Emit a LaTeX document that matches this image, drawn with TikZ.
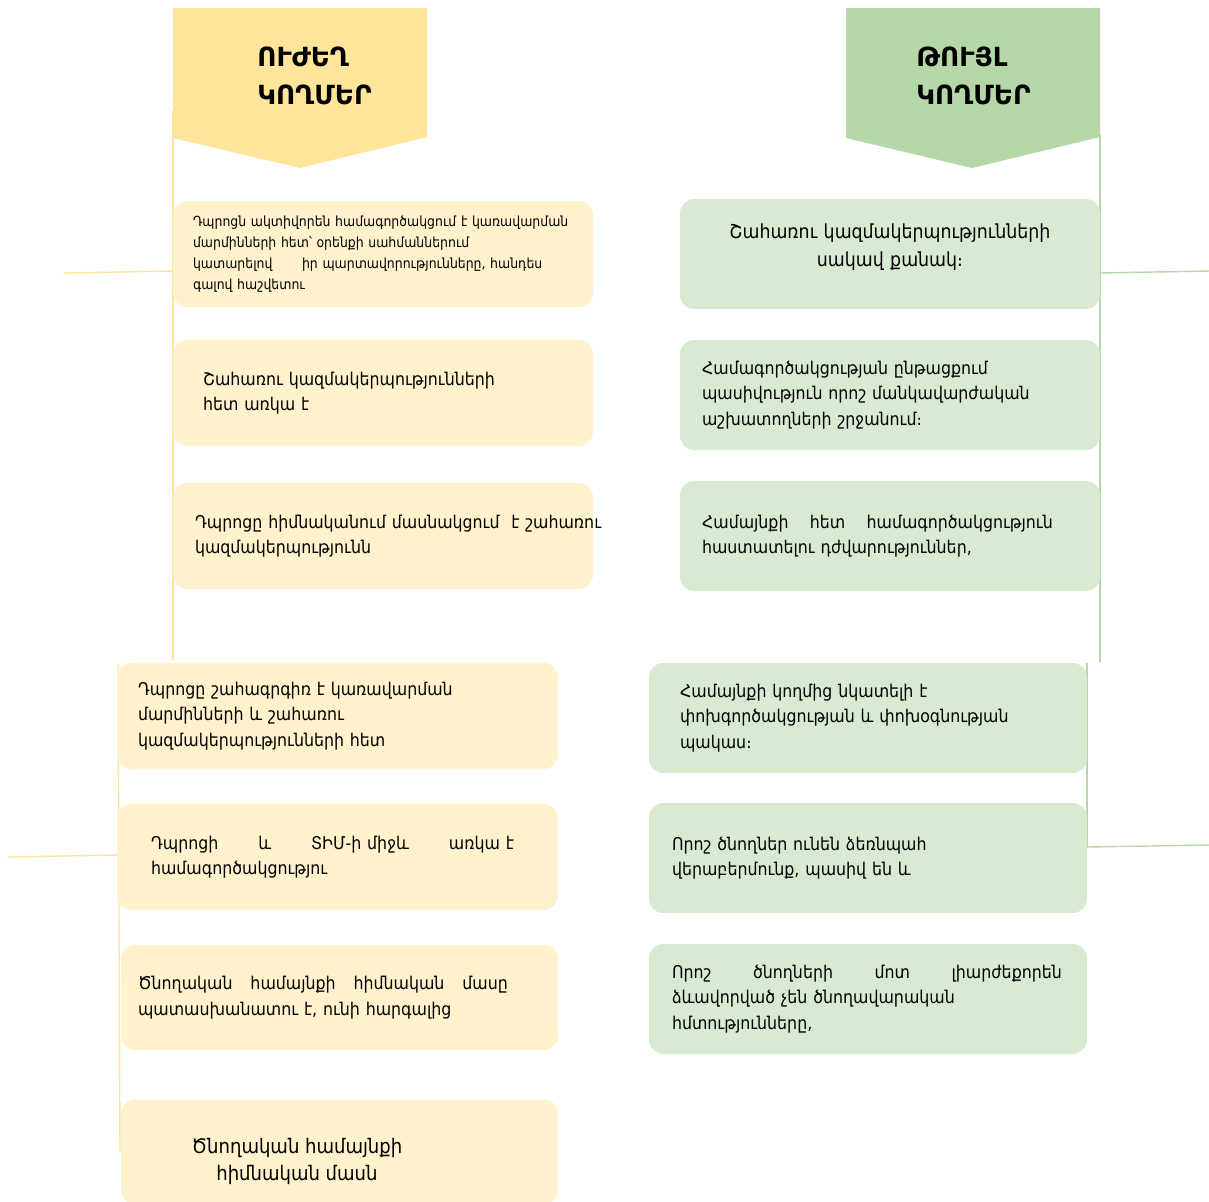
\documentclass[tikz,border=0pt]{standalone}
\usepackage{fontspec}
\setmainfont{DejaVu Sans Condensed}
\newfontfamily\headfont{DejaVu Sans}
\definecolor{yelarrow}{HTML}{FFE599}
\definecolor{grnarrow}{HTML}{B6D7A8}
\definecolor{yelfill}{HTML}{FFF2CC}
\definecolor{grnfill}{HTML}{D9EAD3}
\newcommand{\jline}[2]{\makebox[#1][s]{#2}}

\begin{document}
\begin{tikzpicture}[x=0.02cm, y=-0.02cm,
    strongbox/.style={fill=yelfill, rounded corners=8pt, minimum height=2.12cm, inner ysep=0pt, align=left, font=\fontsize{10}{14.5}\selectfont},
    weakbox/.style={fill=grnfill, rounded corners=8pt, minimum height=2.2cm, inner ysep=0pt, align=left, font=\fontsize{10}{14.5}\selectfont},
    titletext/.style={align=left, inner sep=0pt, font=\headfont\fontsize{15}{21.5}\selectfont\bfseries},
    yline/.style={yelarrow, line width=0.8pt},
    gline/.style={grnarrow, line width=0.8pt}]
    \useasboundingbox (0,0) rectangle (1209,1201);
    % line ends
    \coordinate (ltop) at (173,110); \coordinate (lmid) at (173,660);
    \coordinate (ltop2) at (118,664); \coordinate (lbot) at (120,1152);
    \coordinate (lstub1) at (64,273); \coordinate (lstub2) at (8,857);
    \coordinate (rtop) at (1100,135); \coordinate (rmid) at (1100,662);
    \coordinate (rtop2) at (1087,663); \coordinate (rbot) at (1087,847);
    \coordinate (rstub1) at (1209,271); \coordinate (rstub2) at (1209,845);
    \draw[yline] (ltop) -- (lmid); % left spine
    \draw[yline] (ltop2) -- (lbot);
    \draw[yline] (lstub1) -- (173,271);
    \draw[yline] (lstub2) -- (117,855);
    \draw[gline] (rtop) -- (rmid); % right spine
    \draw[gline] (rtop2) -- (rbot);
    \draw[gline] (1100,273) -- (rstub1);
    \draw[gline] (rbot) -- (rstub2);
    % headers
    \fill[yelarrow] (173,8) -- (427,8) -- (427,137) -- (300,168) -- (173,138) -- cycle;
    \fill[grnarrow] (846,8) -- (1100,8) -- (1100,137) -- (972,168) -- (846,138) -- cycle;
    \node[titletext, anchor=west] (strong) at (257,76) {ՈՒԺԵՂ\\ԿՈՂՄԵՐ};
    \node[titletext, anchor=west] (weak) at (916,76) {ԹՈՒՅԼ\\ԿՈՂՄԵՐ};
    % strong sides
    \node[strongbox, text width=7.8cm, inner xsep=0.3cm, font=\fontsize{7.9}{11.9}\selectfont] (l1) at (383,254) {\hspace{0.1cm}Դպրոցն ակտիվորեն համագործակցում է կառավարման\\\hspace{0.1cm}մարմինների հետ՝ օրենքի սահմաններում\\\hspace{0.1cm}կատարելով\hspace{0.5cm} իր պարտավորությունները, հանդես\\\hspace{0.1cm}գալով հաշվետու};
    \node[strongbox, text width=7.2cm, inner xsep=0.6cm] (l2) at (383,393) {Շահառու կազմակերպությունների\\հետ առկա է};
    \node[strongbox, text width=7.52cm, inner xsep=0.44cm] (l3) at (383,536) {\jline{7.85cm}{Դպրոցը հիմնականում մասնակցում \ է շահառու}\\կազմակերպությունն};
    \node[strongbox, text width=7.98cm, inner xsep=0.42cm] (l4) at (337.5,716) {Դպրոցը շահագրգիռ է կառավարման\\մարմինների և շահառու\\կազմակերպությունների հետ};
    \node[strongbox, text width=7.46cm, inner xsep=0.68cm] (l5) at (337.5,857) {\jline{7.26cm}{Դպրոցի\hfill և\hfill ՏԻՄ-ի միջև\hfill առկա է}\\համագործակցությու};
    \node[strongbox, text width=8.06cm, inner xsep=0.34cm, minimum height=2.1cm] (l6) at (339.5,997.5) {\jline{7.4cm}{Ծնողական\hfill համայնքի\hfill հիմնական\hfill մասը}\\պատասխանատու է, ունի հարգալից};
    \node[strongbox, minimum width=8.74cm, minimum height=2.1cm] (l7) at (339.5,1152) {};
    \node[align=center, font=\fontsize{11.4}{15.4}\selectfont] (l7t) at (297,1161) {Ծնողական համայնքի\\հիմնական մասն};
    % weak sides
    \node[weakbox, text width=7.52cm, inner xsep=0.44cm, align=center, font=\fontsize{11}{16}\selectfont] (r1) at (890,254) {Շահառու կազմակերպությունների\\սակավ քանակ։\\[-6pt]\mbox{}};
    \node[weakbox, text width=7.52cm, inner xsep=0.44cm] (r2) at (890,395) {Համագործակցության ընթացքում\\պասիվություն որոշ մանկավարժական\\աշխատողների շրջանում։};
    \node[weakbox, text width=7.52cm, inner xsep=0.44cm] (r3) at (890,536) {\jline{7.02cm}{Համայնքի\hfill հետ\hfill համագործակցություն}\\հաստատելու դժվարություններ,};
    \node[weakbox, text width=7.52cm, inner xsep=0.62cm] (r4) at (868,718) {Համայնքի կողմից նկատելի է\\փոխգործակցության և փոխօգնության\\պակաս։};
    \node[weakbox, text width=7.84cm, inner xsep=0.46cm] (r5) at (868,858) {Որոշ ծնողներ ունեն ձեռնպահ\\վերաբերմունք, պասիվ են և};
    \node[weakbox, text width=7.84cm, inner xsep=0.46cm] (r6) at (868,999) {\jline{7.8cm}{Որոշ\hfill ծնողների\hfill մոտ\hfill լիարժեքորեն}\\ձևավորված չեն ծնողավարական\\հմտությունները,};
\end{tikzpicture}
\end{document}
